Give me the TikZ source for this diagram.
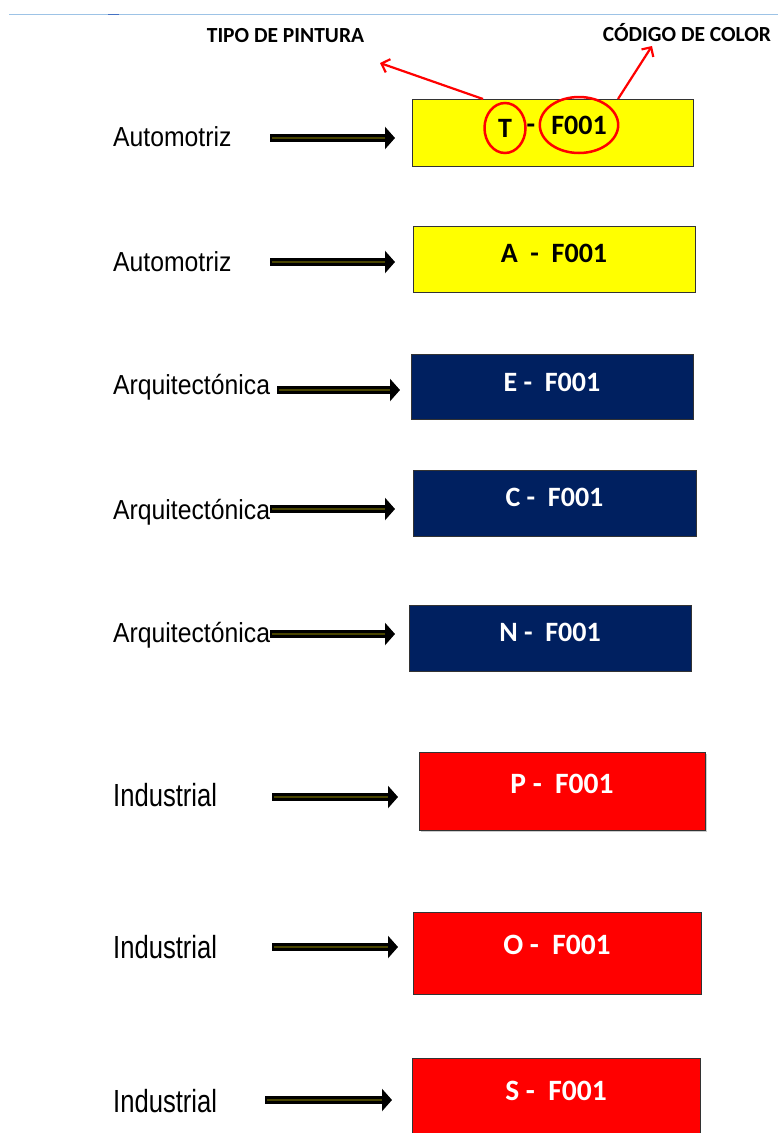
\documentclass[tikz,border=0pt]{standalone}
\usepackage{fontspec}
\setmainfont{Liberation Sans}
\newfontfamily\rowfont[FakeStretch=0.9]{Liberation Sans}
\newfontfamily\indfont[FakeStretch=0.8]{Liberation Sans}
\newfontfamily\codefont[UprightFont=* Bold]{Carlito}
\usetikzlibrary{arrows.meta,shapes.geometric,shadows}

\definecolor{paintyellow}{RGB}{255,255,0}
\definecolor{paintnavy}{RGB}{0,32,96}
\definecolor{paintred}{RGB}{255,0,0}
\definecolor{rulerblue}{RGB}{157,195,230}
\definecolor{rulermark}{RGB}{68,114,196}
\definecolor{arrowolive}{RGB}{72,68,0}

\tikzset{
  codebox/.style={draw=black!80, line width=0.8pt, inner sep=0pt, minimum width=282pt, minimum height=66pt,
    text height=18pt, font=\codefont\fontsize{28pt}{34pt}\selectfont},
  yellowbox/.style={codebox, fill=paintyellow, text=black},
  navybox/.style={codebox, fill=paintnavy, text=white},
  redbox/.style={codebox, fill=paintred, text=white, minimum width=287pt, minimum height=80pt,
    text height=19pt, font=\codefont\fontsize{29.5pt}{35pt}\selectfont},
  circled/.style={ellipse, draw=red, line width=2.5pt, inner sep=0pt, text=black,
    font=\codefont\fontsize{28pt}{34pt}\selectfont},
  rowlabel/.style={anchor=base west, inner sep=0pt, font=\rowfont\fontsize{27.5pt}{33pt}\selectfont},
  indlabel/.style={anchor=base west, inner sep=0pt, font=\indfont\fontsize{32pt}{38pt}\selectfont},
  header/.style={anchor=base, inner sep=0pt, font=\codefont\fontsize{21.5pt}{26pt}\selectfont},
  blockarrow/.style={line width=8pt, draw=black, -{Triangle[length=10pt,width=22pt]}},
  blockcore/.style={line width=2.5pt, draw=arrowolive, shorten >=10pt, shorten <=1.5pt},
  redpointer/.style={draw=red, line width=2.2pt, -{Straight Barb[length=7pt,width=14pt]}}
}

\begin{document}
\begin{tikzpicture}[x=1pt, y=-1pt]
    \useasboundingbox (0,0) rectangle (778,1133);

    % ruler line on top
    \draw[rulerblue, line width=1.4pt] (9,14.5) -- (778,14.5);
    \draw[rulermark, line width=1.6pt] (108,14.5) -- (119,14.5);

    \node[header] (tipo) at (285.5,42) {TIPO DE PINTURA};
    \node[header] (codigo) at (687,41) {CÓDIGO DE COLOR};

    % row 1 (explained)
    \node[rowlabel] (lab1) at (113,146) {Automotriz};
    \node[yellowbox, minimum width=281pt, minimum height=67pt] (code1) at (552.5,132.5) {};
    \node[circled, minimum width=41pt, minimum height=50pt] (type1) at (505,128) {T};
    \node[font=\codefont\fontsize{28pt}{34pt}\selectfont, inner sep=0pt] (dash1) at (531,129) {-};
    \node[circled, minimum width=78pt, minimum height=56pt] (color1) at (579,125) {F001};
    \coordinate (a1) at (270,138);
    \coordinate (b1) at (395,138);
    \draw[blockarrow] (a1) -- (b1);
    \draw[blockcore] (a1) -- (b1);

    \coordinate (tipofoot) at (483,99);
    \coordinate (tipotip) at (380,63);
    \coordinate (codigofoot) at (618,99);
    \coordinate (codigotip) at (652,46);
    \draw[redpointer] (tipofoot) -- (tipotip);
    \draw[redpointer] (codigofoot) -- (codigotip);

    % row 2
    \node[rowlabel] (lab2) at (113,271) {Automotriz};
    \node[yellowbox, text depth=12pt] (code2) at (554,259) {A\ \ -\ \ F001};
    \coordinate (a2) at (270,262);
    \coordinate (b2) at (395,262);
    \draw[blockarrow] (a2) -- (b2);
    \draw[blockcore] (a2) -- (b2);

    % rows 3-5
    \node[rowlabel] (lab3) at (113,394.5) {Arquitectónica};
    \node[navybox, minimum height=65pt, text depth=9pt] (code3) at (552,386.5) {E -\ \ F001};
    \coordinate (a3) at (277,390);
    \coordinate (b3) at (400,390);
    \draw[blockarrow] (a3) -- (b3);
    \draw[blockcore] (a3) -- (b3);

    \node[rowlabel] (lab4) at (113,519.5) {Arquitectónica};
    \node[navybox, minimum width=283pt, text depth=12pt] (code4) at (554.5,503) {C -\ \ F001};
    \coordinate (a4) at (270,509);
    \coordinate (b4) at (395,509);
    \draw[blockarrow] (a4) -- (b4);
    \draw[blockcore] (a4) -- (b4);

    \node[rowlabel] (lab5) at (113,642.5) {Arquitectónica};
    \node[navybox, text depth=12pt] (code5) at (550,638) {N -\ \ F001};
    \coordinate (a5) at (270,634);
    \coordinate (b5) at (395,634);
    \draw[blockarrow] (a5) -- (b5);
    \draw[blockcore] (a5) -- (b5);

    % rows 6-8
    \node[indlabel] (lab6) at (113,806) {Industrial};
    \node[redbox, minimum width=286pt, minimum height=78pt, text depth=15pt,
          drop shadow={shadow xshift=2pt, shadow yshift=-2pt, opacity=0.4}] (code6) at (562,791) {P -\ \ F001};
    \coordinate (a6) at (272,797);
    \coordinate (b6) at (398,797);
    \draw[blockarrow] (a6) -- (b6);
    \draw[blockcore] (a6) -- (b6);

    \node[indlabel] (lab7) at (113,958.5) {Industrial};
    \node[redbox, minimum width=288pt, minimum height=82pt, text depth=16pt] (code7) at (557,953) {O -\ \ F001};
    \coordinate (a7) at (272,947);
    \coordinate (b7) at (398,947);
    \draw[blockarrow] (a7) -- (b7);
    \draw[blockcore] (a7) -- (b7);

    \node[indlabel] (lab8) at (113,1112.5) {Industrial};
    \node[redbox, minimum width=288pt, text depth=15pt] (code8) at (556,1098) {S -\ \ F001};
    \coordinate (a8) at (265,1100);
    \coordinate (b8) at (392,1100);
    \draw[blockarrow] (a8) -- (b8);
    \draw[blockcore] (a8) -- (b8);
\end{tikzpicture}
\end{document}
